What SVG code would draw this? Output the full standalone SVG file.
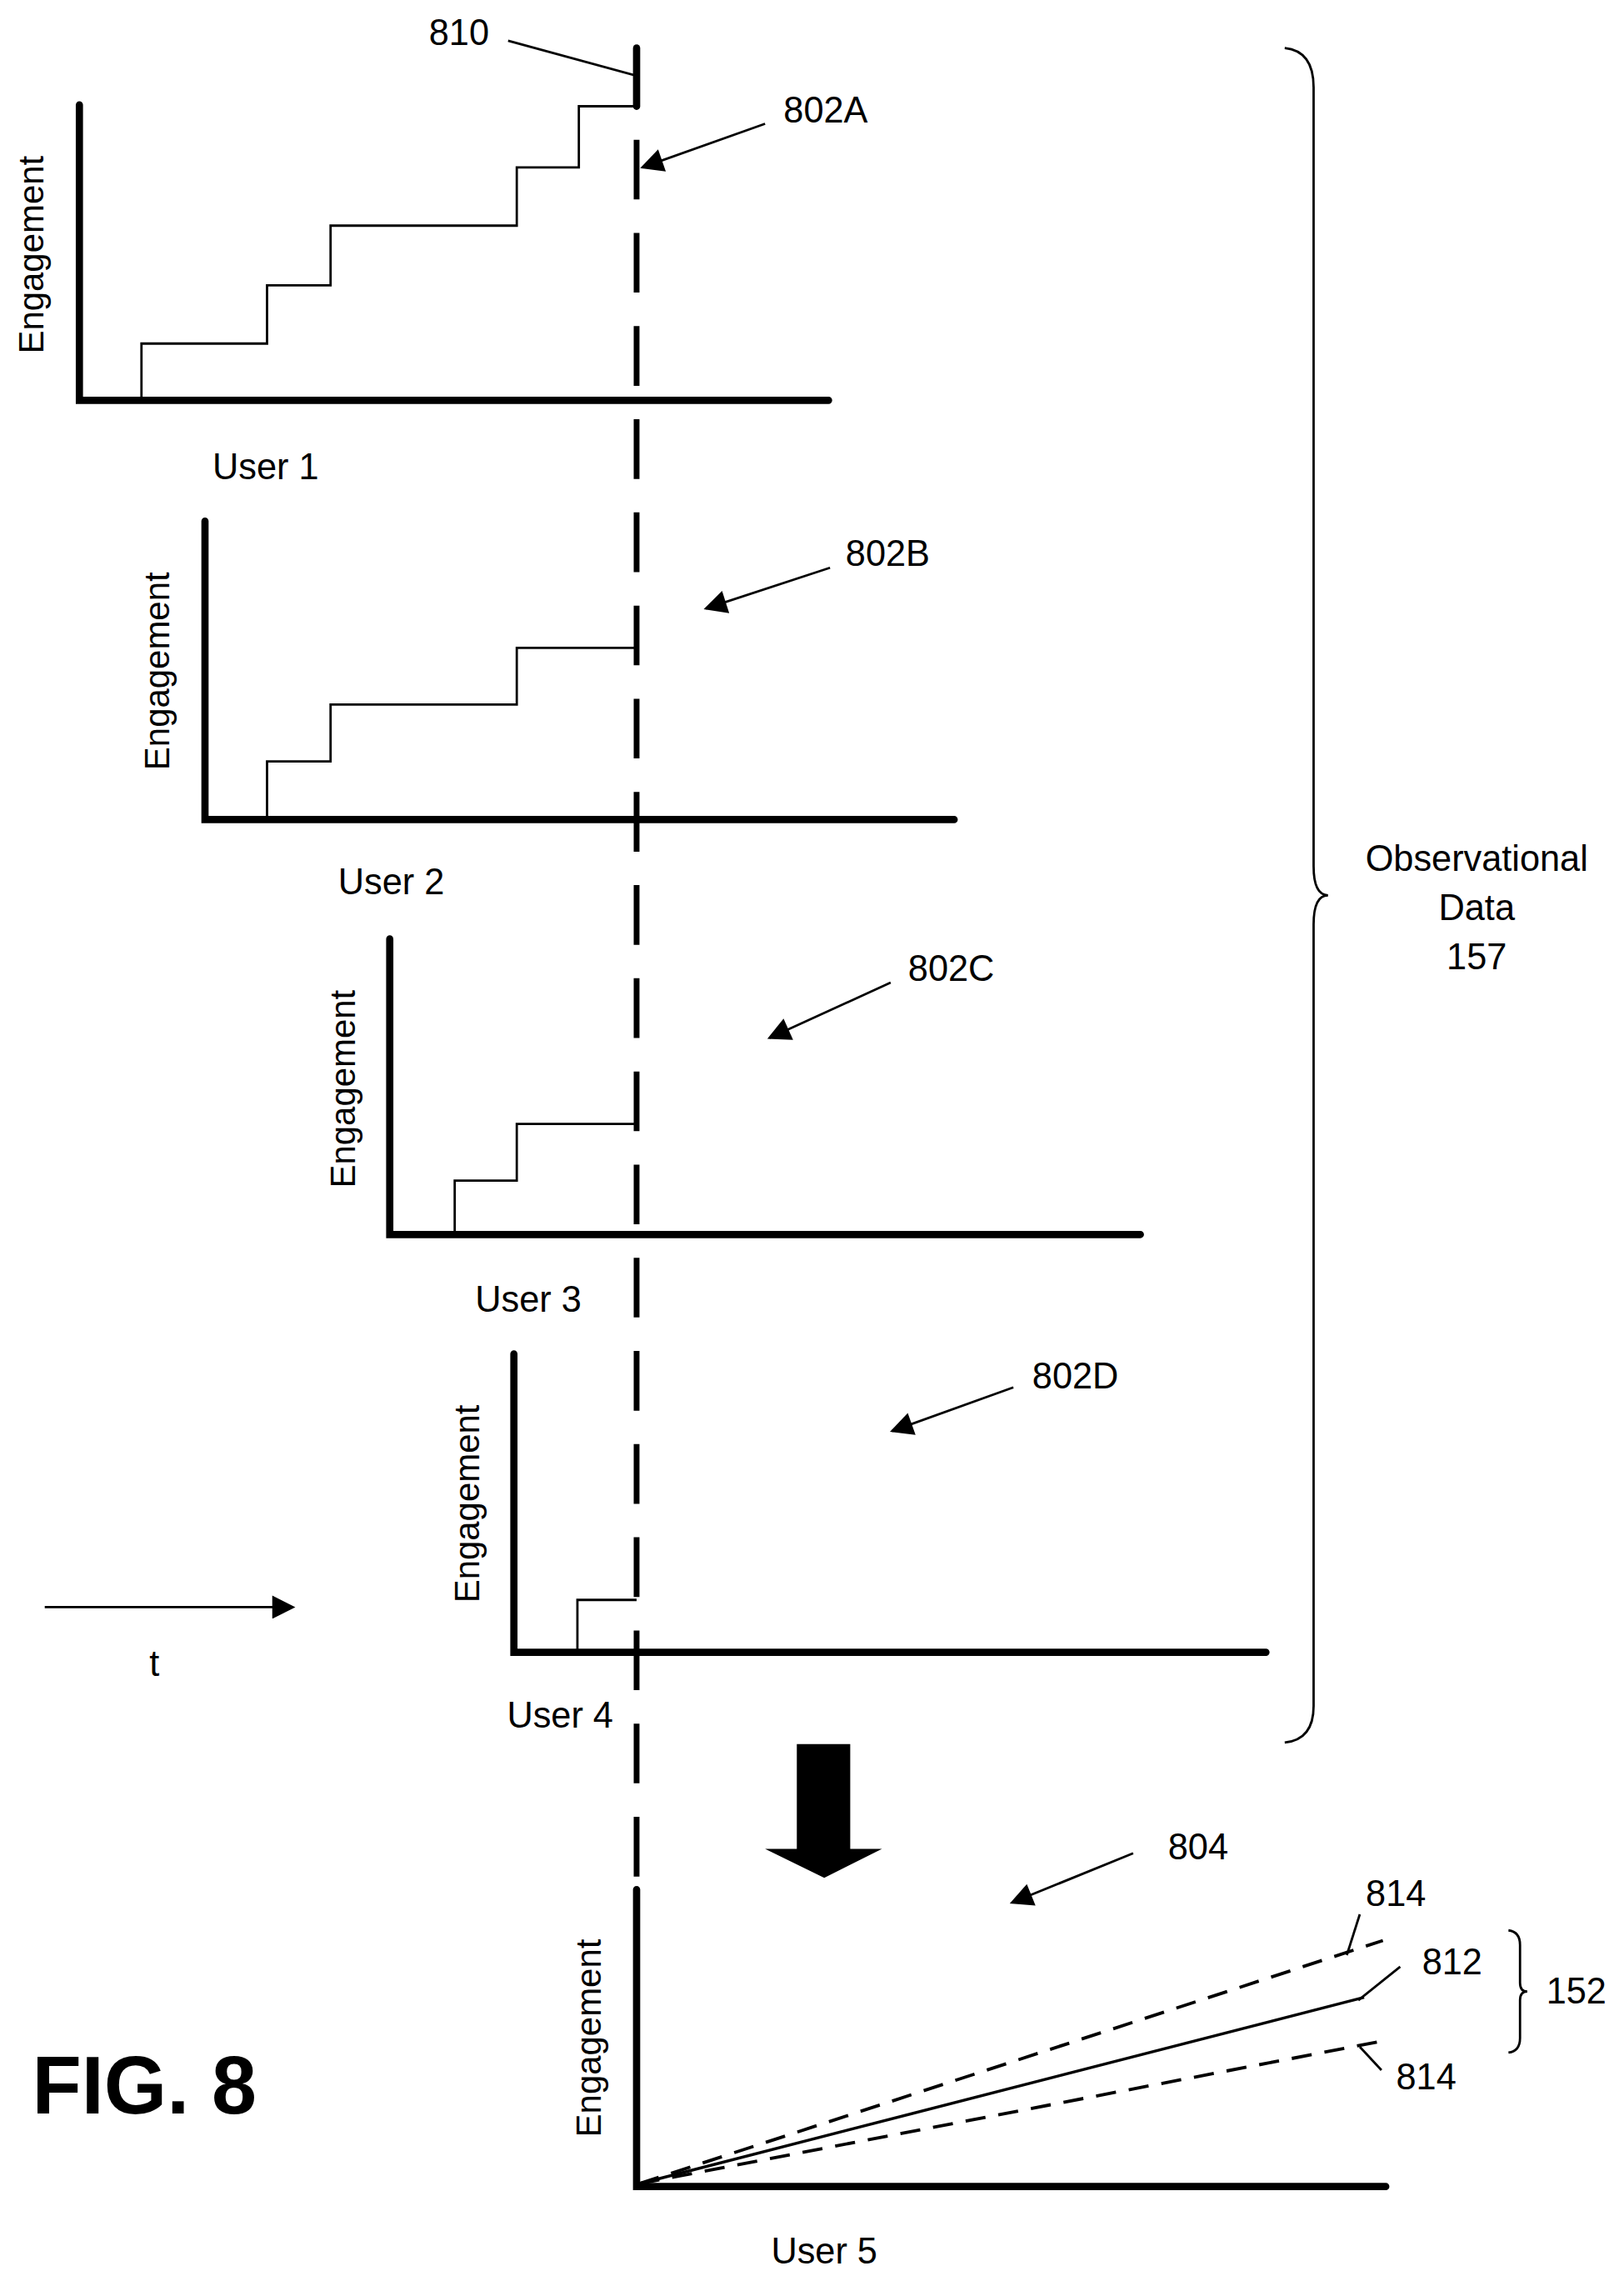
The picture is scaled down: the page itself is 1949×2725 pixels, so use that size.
<svg xmlns="http://www.w3.org/2000/svg" width="1949" height="2725" viewBox="0 0 1949 2725">
<style>
.ax{stroke:#000;stroke-width:5;fill:none;stroke-linecap:round}
.st{stroke:#000;stroke-width:1.6;fill:none}
.ld{stroke:#000;stroke-width:1.6;fill:none}
.lb{font-family:"Liberation Sans Narrow","Liberation Sans",Arial,sans-serif;font-size:25px;fill:#000}
.eg{font-family:"Liberation Sans",Arial,sans-serif;font-size:24px;fill:#000}
</style>
<defs>
<marker id="ah2" viewBox="0 0 10 10" refX="9" refY="5" markerWidth="22" markerHeight="16" markerUnits="userSpaceOnUse" orient="auto"><path d="M0,0 L10,5 L0,10 z" fill="#000"/></marker>
</defs>
<rect width="1949" height="2725" fill="#fff"/>
<g transform="scale(1.7324 1.7468)">
<g id="connectors">
<line x1="441" y1="33" x2="441" y2="73" class="ax" stroke-width="4"/>
<line x1="441" y1="96" x2="441" y2="1298" stroke="#000" stroke-width="4" stroke-dasharray="41 23"/>
<line x1="352" y1="28" x2="441" y2="52" class="ld"/>
<line x1="530" y1="85" x2="445" y2="115" class="ld" marker-end="url(#ah2)"/>
<line x1="575" y1="390" x2="489" y2="418" class="ld" marker-end="url(#ah2)"/>
<line x1="617" y1="675" x2="533" y2="713" class="ld" marker-end="url(#ah2)"/>
<line x1="702" y1="953" x2="618" y2="983" class="ld" marker-end="url(#ah2)"/>
<line x1="785" y1="1273" x2="701" y2="1307" class="ld" marker-end="url(#ah2)"/>
<line x1="31" y1="1104" x2="203" y2="1104" class="ld" marker-end="url(#ah2)"/>
<path d="M552,1198 H589 V1270 H611 L571,1290 L530,1270 H552 Z" fill="#000"/>
</g>
<g id="chart1">
<path d="M55,72 V275 H574" class="ax"/>
<path d="M98,275 V236 H185 V196 H229 V155 H358 V115 H401 V73 H441" class="st"/>
<text class="eg" transform="translate(30,175) rotate(-90)" text-anchor="middle">Engagement</text>
<text class="lb" x="184" y="329" text-anchor="middle">User 1</text>
<text class="lb" x="318" y="31" text-anchor="middle">810</text>
<text class="lb" x="572" y="84" text-anchor="middle">802A</text>
</g>
<g id="chart2">
<path d="M142,358 V563 H661" class="ax"/>
<path d="M185,563 V523 H229 V484 H358 V445 H441" class="st"/>
<text class="eg" transform="translate(117,461) rotate(-90)" text-anchor="middle">Engagement</text>
<text class="lb" x="271" y="614" text-anchor="middle">User 2</text>
<text class="lb" x="615" y="389" text-anchor="middle">802B</text>
</g>
<g id="chart3">
<path d="M270,645 V848 H790" class="ax"/>
<path d="M315,848 V811 H358 V772 H441" class="st"/>
<text class="eg" transform="translate(246,748) rotate(-90)" text-anchor="middle">Engagement</text>
<text class="lb" x="366" y="901" text-anchor="middle">User 3</text>
<text class="lb" x="659" y="674" text-anchor="middle">802C</text>
</g>
<g id="chart4">
<path d="M356,930 V1135 H877" class="ax"/>
<path d="M400,1135 V1099 H441" class="st"/>
<text class="eg" transform="translate(332,1033) rotate(-90)" text-anchor="middle">Engagement</text>
<text class="lb" x="388" y="1187" text-anchor="middle">User 4</text>
<text class="lb" x="745" y="954" text-anchor="middle">802D</text>
</g>
<g id="time">
<text class="lb" x="107" y="1151" text-anchor="middle">t</text>
</g>
<g id="observational">
<path d="M890,33 Q910,35 910,60 V595 Q910,615 920,615 Q910,615 910,635 V1172 Q910,1195 890,1197" class="ld"/>
<text class="lb" x="1023" y="598" text-anchor="middle">Observational</text>
<text class="lb" x="1023" y="632" text-anchor="middle">Data</text>
<text class="lb" x="1023" y="666" text-anchor="middle">157</text>
</g>
<g id="chart5">
<path d="M441,1298 V1502 H960" class="ax"/>
<line x1="443" y1="1500" x2="945" y2="1372" stroke="#000" stroke-width="2"/>
<line x1="443" y1="1500" x2="958" y2="1333" stroke="#000" stroke-width="2.2" stroke-dasharray="14 9"/>
<line x1="443" y1="1500" x2="958" y2="1402" stroke="#000" stroke-width="2.2" stroke-dasharray="14 9"/>
<line x1="933" y1="1343" x2="942" y2="1315" class="ld"/>
<line x1="941" y1="1374" x2="970" y2="1351" class="ld"/>
<line x1="942" y1="1406" x2="957" y2="1422" class="ld"/>
<text class="eg" transform="translate(416,1400) rotate(-90)" text-anchor="middle">Engagement</text>
<text class="lb" x="571" y="1555" text-anchor="middle">User 5</text>
<text class="lb" x="967" y="1309" text-anchor="middle">814</text>
<text class="lb" x="1006" y="1356" text-anchor="middle">812</text>
<text class="lb" x="988" y="1435" text-anchor="middle">814</text>
<text class="lb" x="830" y="1277" text-anchor="middle">804</text>
<path d="M1045,1326 Q1053,1327 1053,1336 V1362 Q1053,1368 1058,1368 Q1053,1368 1053,1374 V1400 Q1053,1409 1045,1410" class="ld"/>
<text class="lb" x="1092" y="1376" text-anchor="middle">152</text>
</g>
<g id="title">
<text x="100" y="1452" text-anchor="middle" font-family="'Liberation Sans Narrow','Liberation Sans',Arial,sans-serif" font-weight="bold" font-size="56">FIG. 8</text>
</g>
</g>
</svg>
